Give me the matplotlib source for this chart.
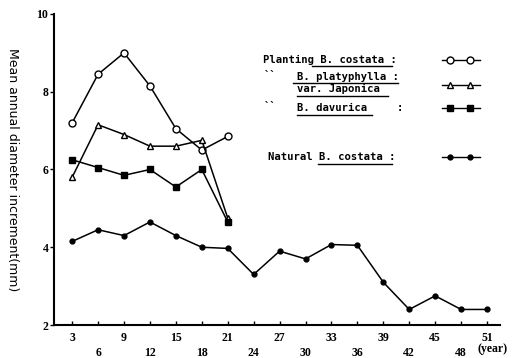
import matplotlib
matplotlib.use('Agg')
import matplotlib.pyplot as plt
from matplotlib.lines import Line2D

W, H = 516, 358

years_plant = [3, 6, 9, 12, 15, 18, 21]
costata_plant = [7.2, 8.45, 9.0, 8.15, 7.05, 6.5, 6.85]
platyphylla = [5.8, 7.15, 6.9, 6.6, 6.6, 6.75, 4.75]
davurica = [6.25, 6.05, 5.85, 6.0, 5.55, 6.0, 4.65]

years_nat = [3, 6, 9, 12, 15, 18, 21, 24, 27, 30, 33, 36, 39, 42, 45, 48, 51]
costata_nat = [4.15, 4.45, 4.3, 4.65, 4.3, 4.0, 3.97, 3.3, 3.9, 3.7, 4.07, 4.05, 3.1, 2.4, 2.75, 2.4, 2.4]

yticks = [2, 4, 6, 8, 10]
xticks_top = years_nat[0::2]
xticks_bot = years_nat[1::2]

fig = plt.figure(figsize=(W / 100, H / 100), dpi=100)
ax = fig.add_axes([54 / W, 1 - 325 / H, 446 / W, 311 / H])

ax.plot(years_plant, costata_plant, color='black', lw=1.1, marker='o', ms=5, mfc='white', mec='black', mew=1)
ax.plot(years_plant, platyphylla, color='black', lw=1.1, marker='^', ms=4.5, mfc='white', mec='black', mew=1)
ax.plot(years_plant, davurica, color='black', lw=1.1, marker='s', ms=4, mfc='black', mec='black')
ax.plot(years_nat, costata_nat, color='black', lw=1.1, marker='o', ms=3.5, mfc='black', mec='black')

ax.set_xlim(0.9, 52.5)
ax.set_ylim(2, 10)
ax.spines['top'].set_visible(False)
ax.spines['right'].set_visible(False)
ax.spines['left'].set_linewidth(1.5)
ax.spines['bottom'].set_linewidth(1.5)

tfont = dict(fontfamily='Liberation Serif', fontweight='bold', fontsize=8.5)
ax.set_yticks(yticks)
ax.set_yticklabels([str(v) for v in yticks], **tfont)
ax.tick_params(axis='y', length=3, width=1, pad=1)

ax.set_xticks(xticks_top)
ax.set_xticklabels([str(v) for v in xticks_top], **tfont)
ax.set_xticks(xticks_bot, minor=True)
ax.set_xticklabels([str(v) for v in xticks_bot], minor=True, **tfont)
ax.tick_params(axis='x', which='major', length=3, width=1, direction='in', pad=5)
ax.tick_params(axis='x', which='minor', length=3, width=1, direction='in', pad=16)
ax.text(49.9, -0.078, '(year)', transform=ax.get_xaxis_transform(), ha='left', va='center', **tfont)

ax.set_ylabel('Mean annual diameter increment(mm)', rotation=-90, fontsize=9, labelpad=22,
              fontfamily='Liberation Sans Narrow', va='bottom')


def fx(px):
    return px / W


def fy(py):
    return 1 - py / H


def ftext(px, py, s, **kw):
    fig.text(fx(px), fy(py), s, fontsize=7.6, fontweight='bold', fontfamily='DejaVu Sans Mono',
             va='center', ha='left', **kw)


def fline(x0, x1, y0, y1, **kw):
    fig.add_artist(Line2D([fx(x0), fx(x1)], [fy(y0), fy(y1)], color='black', lw=1, **kw))


# legend block
ftext(263, 60, 'Planting B. costata :')
fline(312, 392, 66, 66)
ftext(264, 76, '``')
ftext(297, 77, 'B. platyphylla :')
fline(293, 398, 83, 83)
ftext(297, 89, 'var. Japonica')
fline(297, 388, 96, 96)
ftext(264, 107, '``')
ftext(297, 108, 'B. davurica')
ftext(397, 108, ':')
fline(297, 372, 115, 115)
ftext(268, 157, 'Natural B. costata :')
fline(318, 392, 164, 164)

mk = [('o', 5, 'white'), ('^', 4.5, 'white'), ('s', 4, 'black'), ('o', 3.5, 'black')]
rows = [60, 85, 108, 157]
for (m, s, fc), py in zip(mk, rows):
    fline(442, 480, py, py)
    fig.add_artist(Line2D([fx(450), fx(470)], [fy(py), fy(py)], color='black', lw=0,
                          marker=m, ms=s, mfc=fc, mec='black'))

fig.savefig('out.png', dpi=100)
